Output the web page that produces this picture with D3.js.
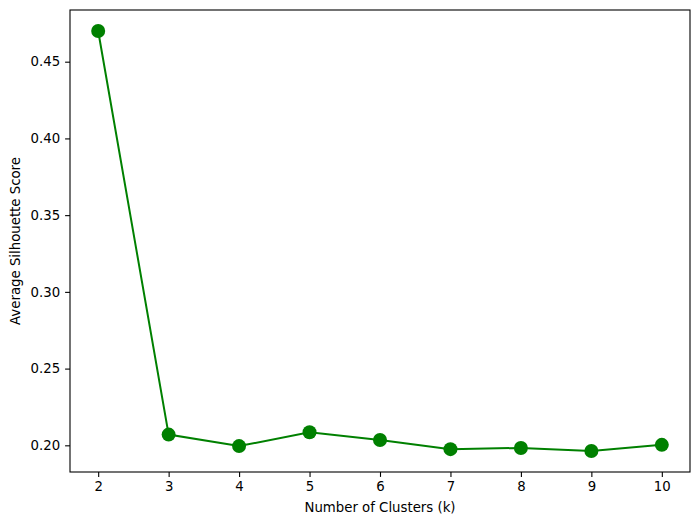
<!DOCTYPE html>
<html><head><meta charset="utf-8">
<script src="https://cdn.jsdelivr.net/npm/d3@7"></script>
<style>body{margin:0;background:#fff}svg{display:block}</style>
</head><body>
<script>
const ks = [2,3,4,5,6,7,8,9,10];
const scores = [0.470,0.207,0.1995,0.2085,0.2035,0.1975,0.1983,0.1963,0.2003];
const xTicks = [2,3,4,5,6,7,8,9,10];
const yTicks = [0.20,0.25,0.30,0.35,0.40,0.45];

const W=699,H=525,L=70,R=690,T=10,B=472;
const svg=d3.select("body").append("svg").attr("width",W).attr("height",H)
  .style("font-family","DejaVu Sans, sans-serif");
const x=d3.scaleLinear().domain([1.6,10.4]).range([L,R]);
const ymin=d3.min(scores),ymax=d3.max(scores),pad=(ymax-ymin)*0.05;
const y=d3.scaleLinear().domain([ymin-pad,ymax+pad]).range([B,T]);

const gx=svg.append("g").attr("transform",`translate(0,${B})`)
  .call(d3.axisBottom(x).tickValues(xTicks).tickFormat(d3.format("d")).tickSize(4.9).tickPadding(4.9));
const gy=svg.append("g").attr("transform",`translate(${L},0)`)
  .call(d3.axisLeft(y).tickValues(yTicks).tickFormat(d3.format(".2f")).tickSize(4.9).tickPadding(4.9));
[gx,gy].forEach(g=>{g.select(".domain").remove();
  g.selectAll("text").attr("font-size","13.3px").attr("fill","#000").attr("font-family","DejaVu Sans, sans-serif");
  g.selectAll("line").attr("stroke","#000").attr("stroke-width",1.1);});

svg.append("rect").attr("x",L).attr("y",T).attr("width",R-L).attr("height",B-T)
  .attr("fill","none").attr("stroke","#000").attr("stroke-width",1.1);

const data=ks.map((k,i)=>({k,v:scores[i]}));
svg.append("path").datum(data).attr("fill","none").attr("stroke","#008000").attr("stroke-width",2)
  .attr("d",d3.line().x(d=>x(d.k)).y(d=>y(d.v)));
svg.selectAll("circle.pt").data(data).enter().append("circle").attr("class","pt")
  .attr("cx",d=>x(d.k)).attr("cy",d=>y(d.v)).attr("r",7).attr("fill","#008000");

svg.append("text").attr("x",(L+R)/2).attr("y",512).attr("text-anchor","middle")
  .attr("font-size","13.3px").text("Number of Clusters (k)");
svg.append("text").attr("transform",`translate(20,${(T+B)/2}) rotate(-90)`).attr("text-anchor","middle")
  .attr("font-size","13.3px").text("Average Silhouette Score");
</script>
</body></html>
